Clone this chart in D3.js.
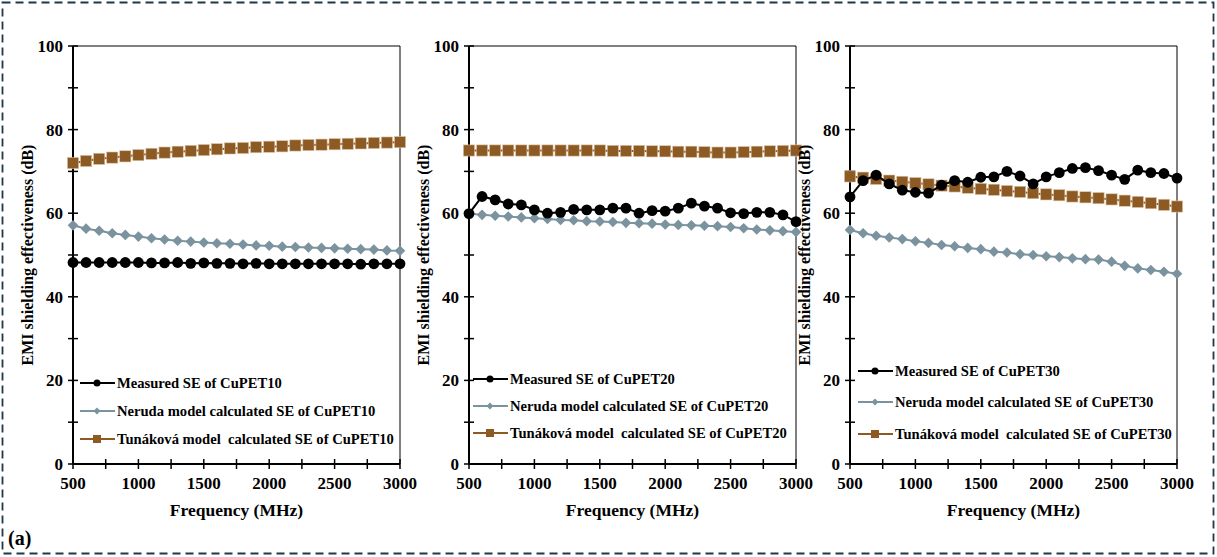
<!DOCTYPE html>
<html>
<head>
<meta charset="utf-8">
<script src="https://cdn.jsdelivr.net/npm/d3@7"></script>
<style>
  body { margin: 0; background: #fff; }
  svg text { font-family: "Liberation Serif", "Times New Roman", "DejaVu Serif", serif; font-weight: 700; }
</style>
</head>
<body>
<div id="chart"></div>
<script>
// frequencies (MHz)
var freq = [500, 600, 700, 800, 900, 1000, 1100, 1200, 1300, 1400, 1500, 1600, 1700,
  1800, 1900, 2000, 2100, 2200, 2300, 2400, 2500, 2600, 2700, 2800, 2900, 3000];

var yTicks = [0, 20, 40, 60, 80, 100];
var xTicks = [500, 1000, 1500, 2000, 2500, 3000];

var samples = ["CuPET10", "CuPET20", "CuPET30"];

// CuPET10
var measured10 = [48.2, 48.2, 48.2, 48.2, 48.2, 48.2, 48.1, 48.1, 48.2, 48.0, 48.1, 48.0, 48.0,
  47.9, 48.0, 47.9, 47.9, 47.9, 47.9, 47.9, 47.9, 47.9, 47.8, 47.9, 47.9, 47.9];
var neruda10 = [57.1, 56.3, 55.8, 55.2, 54.8, 54.4, 54.0, 53.7, 53.4, 53.2, 53.0, 52.8, 52.7,
  52.5, 52.3, 52.2, 52.0, 51.9, 51.8, 51.7, 51.6, 51.5, 51.4, 51.3, 51.1, 51.0];
var tunakova10 = [72.0, 72.5, 73.0, 73.3, 73.6, 73.9, 74.2, 74.5, 74.7, 74.9, 75.1, 75.3, 75.5,
  75.6, 75.8, 75.9, 76.0, 76.2, 76.3, 76.4, 76.5, 76.6, 76.7, 76.8, 76.9, 77.0];

// CuPET20
var measured20 = [59.9, 64.0, 63.2, 62.2, 62.0, 60.8, 60.0, 60.2, 60.9, 60.8, 60.8, 61.2, 61.2,
  60.0, 60.6, 60.5, 61.2, 62.4, 61.7, 61.2, 60.1, 59.9, 60.2, 60.2, 59.6, 58.0];
var neruda20 = [59.9, 59.6, 59.4, 59.2, 59.0, 58.8, 58.6, 58.4, 58.3, 58.1, 58.0, 57.9, 57.7,
  57.6, 57.5, 57.3, 57.2, 57.1, 57.0, 56.9, 56.7, 56.4, 56.1, 55.9, 55.7, 55.5];
var tunakova20 = [75.0, 75.0, 75.0, 75.0, 75.0, 75.0, 75.0, 75.0, 75.0, 75.0, 75.0, 74.9, 74.9,
  74.9, 74.8, 74.8, 74.7, 74.7, 74.6, 74.5, 74.5, 74.6, 74.7, 74.8, 74.9, 75.0];

// CuPET30
var measured30 = [63.9, 67.8, 69.1, 67.0, 65.5, 65.0, 64.8, 66.7, 67.8, 67.4, 68.6, 68.7, 70.0,
  68.9, 67.0, 68.7, 69.7, 70.7, 70.9, 70.2, 69.1, 68.1, 70.3, 69.7, 69.5, 68.4];
var neruda30 = [56.0, 55.2, 54.6, 54.2, 53.8, 53.3, 52.9, 52.4, 52.1, 51.7, 51.4, 50.8, 50.6,
  50.2, 50.0, 49.7, 49.5, 49.2, 49.0, 48.9, 48.4, 47.4, 46.8, 46.4, 46.0, 45.5];
var tunakova30 = [68.8, 68.5, 68.2, 67.8, 67.5, 67.2, 66.9, 66.6, 66.4, 66.1, 65.8, 65.6, 65.3,
  65.1, 64.8, 64.5, 64.3, 64.0, 63.8, 63.6, 63.3, 63.0, 62.7, 62.4, 62.0, 61.6];

var svgWidth = 1217;
var svgHeight = 557;

var colors = { measured: "#000000", neruda: "#7a939f", tunakova: "#8c5a22" };

// panel layout: left edge of plot, legend position
var panels = [
  { left: 73, sample: samples[0], series: [measured10, neruda10, tunakova10], legendY: [383, 411, 439], legendX: 80 },
  { left: 469, sample: samples[1], series: [measured20, neruda20, tunakova20], legendY: [379, 406, 433], legendX: 473 },
  { left: 850, sample: samples[2], series: [measured30, neruda30, tunakova30], legendY: [371, 402, 434], legendX: 858 }
];

var plotW = 327;
var plotTop = 46, plotBottom = 464;

var svg = d3.select("#chart").append("svg")
  .attr("width", svgWidth)
  .attr("height", svgHeight);

// dashed outer frame
svg.append("rect")
  .attr("x", 2.5).attr("y", 2.5)
  .attr("width", svgWidth - 6).attr("height", svgHeight - 6)
  .attr("fill", "none")
  .attr("stroke", "#1e3847")
  .attr("stroke-width", 1.8)
  .attr("stroke-dasharray", "8,5");

var seriesKeys = ["measured", "neruda", "tunakova"];
var legendNames = ["Measured SE of ", "Neruda model calculated SE of ", "Tunáková model  calculated SE of "];

function drawMarker(g, key, x, y) {
  if (key === "measured") {
    g.append("circle").attr("cx", x).attr("cy", y).attr("r", 5.4).attr("fill", colors.measured);
  } else if (key === "neruda") {
    g.append("path")
      .attr("d", d3.symbol().type(d3.symbolDiamond2).size(72))
      .attr("transform", `translate(${x},${y})`)
      .attr("fill", colors.neruda);
  } else {
    g.append("rect").attr("x", x - 5.6).attr("y", y - 5.6).attr("width", 11.2).attr("height", 11.2)
      .attr("fill", colors.tunakova).attr("stroke", "#d9c4a8").attr("stroke-width", 0.6);
  }
}

panels.forEach(function(p) {
  var x = d3.scaleLinear().domain([500, 3000]).range([p.left, p.left + plotW]);
  var y = d3.scaleLinear().domain([0, 100]).range([plotBottom, plotTop]);

  var g = svg.append("g");

  // frame: top and right lines
  g.append("line").attr("x1", p.left).attr("x2", p.left + plotW).attr("y1", plotTop).attr("y2", plotTop)
    .attr("stroke", "#000").attr("stroke-width", 1);
  g.append("line").attr("x1", p.left + plotW).attr("x2", p.left + plotW).attr("y1", plotTop).attr("y2", plotBottom)
    .attr("stroke", "#000").attr("stroke-width", 1);

  // axes
  g.append("line").attr("x1", p.left).attr("x2", p.left + plotW).attr("y1", plotBottom).attr("y2", plotBottom)
    .attr("stroke", "#000").attr("stroke-width", 2);
  g.append("line").attr("x1", p.left).attr("x2", p.left).attr("y1", plotTop).attr("y2", plotBottom)
    .attr("stroke", "#000").attr("stroke-width", 2);

  // y ticks (major + minor, crossing)
  d3.range(0, 101, 10).forEach(function(v) {
    g.append("line").attr("x1", p.left - 5).attr("x2", p.left + 5)
      .attr("y1", y(v)).attr("y2", y(v)).attr("stroke", "#000").attr("stroke-width", 1.5);
  });
  yTicks.forEach(function(v) {
    g.append("text").attr("x", p.left - 10).attr("y", y(v) + 6)
      .attr("text-anchor", "end").attr("font-size", 17).text(v);
  });

  // x ticks every 250
  d3.range(500, 3001, 250).forEach(function(v) {
    g.append("line").attr("x1", x(v)).attr("x2", x(v))
      .attr("y1", plotBottom - 5).attr("y2", plotBottom + 5).attr("stroke", "#000").attr("stroke-width", 1.5);
  });
  xTicks.forEach(function(v) {
    g.append("text").attr("x", x(v)).attr("y", plotBottom + 25)
      .attr("text-anchor", "middle").attr("font-size", 17).text(v);
  });

  // axis titles
  g.append("text").attr("x", p.left + plotW / 2).attr("y", 516)
    .attr("text-anchor", "middle").attr("font-size", 17.5).text("Frequency (MHz)");
  g.append("text")
    .attr("transform", `translate(${p.left - 40},${(plotTop + plotBottom) / 2}) rotate(-90)`)
    .attr("text-anchor", "middle").attr("font-size", 16)
    .text("EMI shielding effectiveness (dB)");

  // series
  var line = d3.line().x((d, i) => x(freq[i])).y(d => y(d));
  [2, 1, 0].forEach(function(k) {
    var key = seriesKeys[k];
    var vals = p.series[k];
    g.append("path").datum(vals)
      .attr("d", line).attr("fill", "none")
      .attr("stroke", colors[key]).attr("stroke-width", 2);
    vals.forEach(function(v, i) { drawMarker(g, key, x(freq[i]), y(v)); });
  });

  // legend
  seriesKeys.forEach(function(key, k) {
    var ly = p.legendY[k];
    g.append("line").attr("x1", p.legendX).attr("x2", p.legendX + 35)
      .attr("y1", ly).attr("y2", ly).attr("stroke", colors[key]).attr("stroke-width", 2);
    if (key === "measured") {
      g.append("circle").attr("cx", p.legendX + 17).attr("cy", ly).attr("r", 3.5).attr("fill", colors.measured);
    } else if (key === "neruda") {
      g.append("path").attr("d", d3.symbol().type(d3.symbolDiamond2).size(30))
        .attr("transform", `translate(${p.legendX + 17},${ly})`).attr("fill", colors.neruda);
    } else {
      g.append("rect").attr("x", p.legendX + 13).attr("y", ly - 4).attr("width", 8).attr("height", 8)
        .attr("fill", colors.tunakova);
    }
    g.append("text").attr("x", p.legendX + 37).attr("y", ly + 5)
      .attr("font-size", 14.6)
      .style("white-space", "pre")
      .text(legendNames[k] + p.sample);
  });
});

// panel label
svg.append("text").attr("x", 8).attr("y", 545).attr("font-size", 20).text("(a)");
</script>
</body>
</html>
